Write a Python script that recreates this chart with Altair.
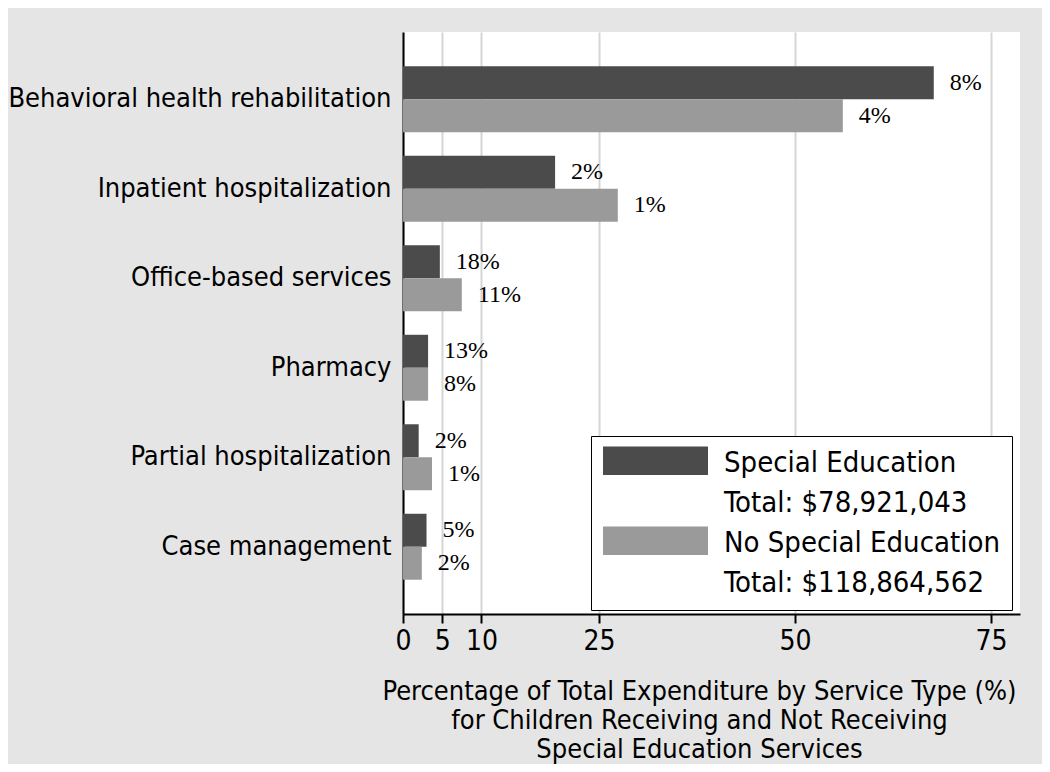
import altair as alt
import pandas as pd

categories = ["Behavioral health rehabilitation", "Inpatient hospitalization",
              "Office-based services", "Pharmacy", "Partial hospitalization",
              "Case management"]
special_values = [67.7, 19.4, 4.7, 3.2, 2.0, 3.0]
nospecial_values = [56.1, 27.4, 7.5, 3.2, 3.7, 2.4]
special_labels = ["8%", "2%", "18%", "13%", "2%", "5%"]
nospecial_labels = ["4%", "1%", "11%", "8%", "1%", "2%"]
groups = ["Special Education", "No Special Education"]
legend_entries = ["Special Education", "Total: $78,921,043",
                  "No Special Education", "Total: $118,864,562"]
legend_colors = ["#4b4b4b", "rgba(0,0,0,0)", "#9a9a9a", "rgba(0,0,0,0)"]
x_ticks = [0, 5, 10, 25, 50, 75]

rows = []
for c, v, l in zip(categories, special_values, special_labels):
    rows.append({"cat": c, "group": groups[0], "value": v, "label": l})
for c, v, l in zip(categories, nospecial_values, nospecial_labels):
    rows.append({"cat": c, "group": groups[1], "value": v, "label": l})
df = pd.DataFrame(rows)

SANS = "DejaVu Sans Condensed, DejaVu Sans"
SERIF = "Liberation Serif"

x = alt.X("value:Q",
          scale=alt.Scale(domain=[0, 78.7], nice=False, zero=True),
          axis=alt.Axis(values=x_ticks, format="d", grid=True,
                        gridColor="#d6d6d6", gridWidth=2,
                        domainColor="black", domainWidth=2,
                        tickColor="black", tickWidth=2, tickSize=9,
                        labelFont=SANS, labelFontSize=28, labelColor="black",
                        labelPadding=4, labelFlush=False,
                        title=["Percentage of Total Expenditure by Service Type (%)",
                               "for Children Receiving and Not Receiving",
                               "Special Education Services"],
                        titleFont=SANS, titleFontSize=27, titleFontWeight="normal",
                        titleColor="black", titleLineHeight=29, titlePadding=23,
                        titleX=296, titleAlign="center"))
y = alt.Y("cat:N", sort=categories,
          scale=alt.Scale(paddingInner=0.263, paddingOuter=0.383),
          axis=alt.Axis(title=None, ticks=False, grid=False,
                        domainColor="black", domainWidth=2,
                        labelFont=SANS, labelFontSize=27, labelColor="black",
                        labelPadding=12, labelLimit=500))
yoff = alt.YOffset("group:N", scale=alt.Scale(domain=groups))

bars = alt.Chart(df).mark_bar().encode(
    x=x, y=y, yOffset=yoff,
    color=alt.Color("group:N",
                    scale=alt.Scale(domain=legend_entries, range=legend_colors),
                    legend=alt.Legend(title=None, orient="none",
                                      legendX=188, legendY=404,
                                      symbolType="M-1,-1.1H6V0.8H-1Z",
                                      symbolSize=900, symbolStrokeWidth=0,
                                      labelFont=SANS, labelFontSize=29,
                                      labelColor="black", labelOffset=91,
                                      labelLimit=600,
                                      rowPadding=8, padding=12,
                                      strokeColor="black", fillColor="white")),
)

texts = alt.Chart(df).mark_text(align="left", baseline="middle", dx=16,
                                font=SERIF, fontSize=24, color="black").encode(
    x="value:Q", y=alt.Y("cat:N", sort=categories), yOffset=yoff, text="label:N")

chart = alt.layer(bars, texts).properties(
    width=617, height=582,
    background="#e5e5e5",
    padding={"left": 395, "top": 24, "right": 22, "bottom": 150},
    autosize=alt.AutoSizeParams(type="none"),
).configure_view(stroke=None, fill="white")

chart.save("out.html", embed_options={"renderer": "svg", "actions": False})
